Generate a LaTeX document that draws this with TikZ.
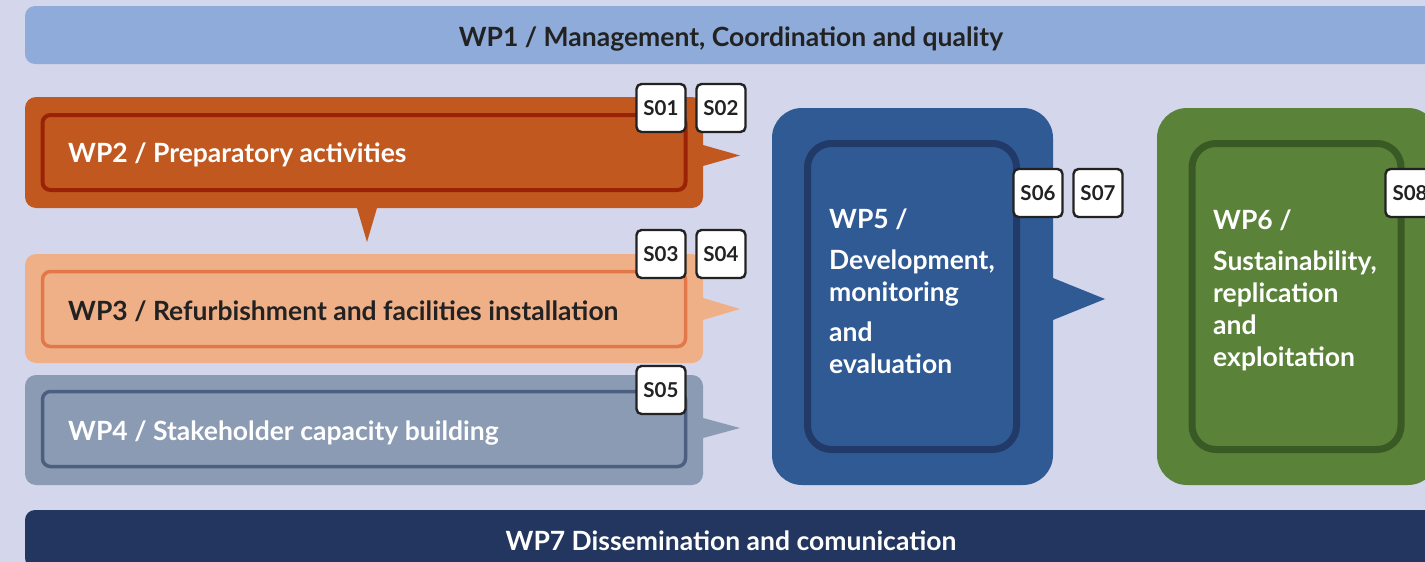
\documentclass[tikz,border=0pt]{standalone}
\usepackage{fontspec}
\setmainfont{Lato}
\usetikzlibrary{positioning, calc}
\definecolor{bgl}{HTML}{D4D6EB}
\definecolor{ink}{HTML}{222222}
\definecolor{mgmt}{HTML}{8FABD9}
\definecolor{prep}{HTML}{C0581F}
\definecolor{prepd}{HTML}{9A2306}
\definecolor{refb}{HTML}{EFB088}
\definecolor{refbd}{HTML}{E2784A}
\definecolor{stak}{HTML}{8A9BB3}
\definecolor{stakd}{HTML}{4D5F80}
\definecolor{devm}{HTML}{2F5A94}
\definecolor{devmd}{HTML}{213A68}
\definecolor{sust}{HTML}{5A8238}
\definecolor{sustd}{HTML}{3A5A25}
\definecolor{diss}{HTML}{22365F}
\tikzset{
  bar/.style={rectangle, fill=#1, rounded corners=10pt, minimum width=1412pt, minimum height=58pt,
              inner sep=0pt, text height=22pt, text depth=0pt,
              font=\fontsize{26.5}{32}\selectfont\bfseries},
  box/.style={rectangle, fill=#1, rounded corners=11pt, minimum width=678pt, inner sep=0pt},
  tall/.style={rectangle, fill=#1, rounded corners=30pt, minimum width=281pt, minimum height=377pt, inner sep=0pt},
  frame/.style={rectangle, draw=#1, rounded corners=8pt, line width=3.5pt, minimum width=643pt,
                minimum height=75pt, inner sep=0pt},
  tframe/.style={rectangle, draw=#1, rounded corners=24pt, line width=7pt, minimum width=209pt,
                 minimum height=306pt, inner sep=0pt},
  wptxt/.style={anchor=base west, inner sep=0pt, text=#1, align=left,
                font=\fontsize{26.5}{32}\selectfont\bfseries},
  wptxt/.default=white,
  tag/.style={rectangle, draw=ink, fill=white, rounded corners=5pt, line width=2.4pt,
              minimum width=49pt, minimum height=48pt, inner sep=0pt, text=ink,
              font=\fontsize{20.5}{22}\selectfont\bfseries},
}
\begin{document}
\begin{tikzpicture}[x=1pt, y=-1pt]
    \useasboundingbox (0,0) rectangle (1425,562);
    \clip (0,0) rectangle (1425,562);
    \fill[bgl] (0,0) rectangle (1425,562);

    % top and bottom bars
    \node[bar=mgmt, text=ink] (wp1) at (731,35)  {WP1 / Management, Coordination and quality};
    \node[bar=diss, text=white] (wp7) at (731,539) {WP7 Dissemination and comunication};

    % left column
    \node[box=prep, minimum height=111pt] (wp2) at (364,152.5) {};
    \node[box=refb, minimum height=109pt] (wp3) at (364,308.5) {};
    \node[box=stak, minimum height=110pt] (wp4) at (364,430)   {};
    \fill[prep] (703,145) -- (740,155.5) -- (703,166) -- cycle;
    \fill[prep] (357,208) -- (367,242) -- (377,208) -- cycle;
    \fill[refb] (703,298) -- (740,309) -- (703,320) -- cycle;
    \fill[stak] (703,418) -- (740,428) -- (703,438) -- cycle;
    \node[frame=prepd, line width=4pt] (wp2in) at (364,152.5) {};
    \node[frame=refbd] (wp3in) at (364,309) {};
    \node[frame=stakd] (wp4in) at (364,429) {};
    \node[wptxt]     (wp2t) at (68,162) {WP2 / Preparatory activities};
    \node[wptxt=ink] (wp3t) at (68,320) {WP3 / Refurbishment and facilities installation};
    \node[wptxt]     (wp4t) at (68,440) {WP4 / Stakeholder capacity building};

    % right column (base anchor sits on the last line)
    \node[tall=devm] (wp5) at (912.5,296.5) {};
    \node[tall=sust] (wp6) at (1297.5,296.5) {};
    \fill[devm] (1053,278) -- (1105,299) -- (1053,320) -- cycle;
    \node[tframe=devmd] (wp5in) at (912,296.5) {};
    \node[tframe=sustd] (wp6in) at (1296.5,296.5) {};
    \node[wptxt] (wp5t) at (829,373) {WP5 /\\[9pt]Development,\\monitoring\\[8pt]and\\evaluation};
    \node[wptxt] (wp6t) at (1213,366) {WP6 /\\[9pt]Sustainability,\\replication\\and\\exploitation};

    % deliverable tags
    \node[tag] (s01) at (661,108)  {S01};
    \node[tag] (s02) at (721,108)  {S02};
    \node[tag] (s03) at (661,254)  {S03};
    \node[tag] (s04) at (721,254)  {S04};
    \node[tag] (s05) at (661,390)  {S05};
    \node[tag] (s06) at (1038,193) {S06};
    \node[tag] (s07) at (1098,193) {S07};
    \node[tag] (s08) at (1410,193) {S08};
  \end{tikzpicture}
\end{document}
